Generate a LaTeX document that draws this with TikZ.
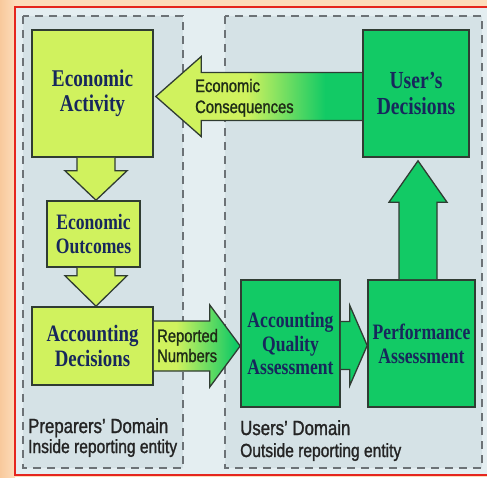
\documentclass[tikz,border=0pt]{standalone}
\usepackage{fontspec}
\setmainfont{Liberation Serif}
\newfontfamily\boxfont[FakeStretch=0.8]{Liberation Serif}
\newfontfamily\lblfont[FakeStretch=0.82,FakeBold=1.3]{Liberation Sans}
\usetikzlibrary{calc}

\definecolor{ygreen}{HTML}{D0F25E}
\definecolor{bgreen}{HTML}{12CA65}
\definecolor{edge}{HTML}{303C33}
\definecolor{navy}{HTML}{17275C}
\definecolor{peach}{HTML}{FDDCBA}
\definecolor{peachdark}{HTML}{F8C99C}
\definecolor{frame}{HTML}{E5261E}
\definecolor{panel}{HTML}{D5E2E6}
\definecolor{gapbg}{HTML}{E4EEF1}
\definecolor{dashc}{HTML}{6C7276}
\definecolor{lbl}{HTML}{242424}
\definecolor{arrowtxt}{HTML}{1F2C17}

% colour ramps for the two shaded block arrows
\pgfdeclarehorizontalshading{conseqshade}{100bp}{color(0bp)=(ygreen); color(47bp)=(ygreen); color(66bp)=(bgreen); color(100bp)=(bgreen)}
\pgfdeclarehorizontalshading{reportshade}{100bp}{color(0bp)=(ygreen); color(38bp)=(ygreen); color(72bp)=(bgreen); color(100bp)=(bgreen)}

\tikzset{
  ybox/.style={draw=edge, line width=1.6pt, fill=ygreen, inner sep=0pt, align=center,
    text=navy, font=\boxfont\bfseries\fontsize{23}{25}\selectfont},
  gbox/.style={ybox, fill=bgreen},
  blockarrow/.style={draw=edge, line width=1.3pt, line join=miter},
  domainbox/.style={draw=dashc, line width=1.5pt, dash pattern=on 8pt off 6pt, fill=panel},
  domlbl/.style={anchor=base west, inner sep=0pt, text=lbl},
  arrlbl/.style={anchor=base west, inner sep=0pt, text=arrowtxt,
    font=\lblfont\fontsize{18}{21}\selectfont}
}

\begin{document}
\begin{tikzpicture}[x=1pt, y=-1pt]
\useasboundingbox (0,0) rectangle (487,477);
\clip (0,0) rectangle (487,477);

% outer frame
\fill[peach] (0,0) rectangle (487,477);
\shade[left color=peachdark, right color=peach] (0,0) rectangle (15,477);
\fill[gapbg] (15,7) rectangle (495,475);
\draw[frame, line width=1.5pt] (495,7) -- (15,7) -- (15,475) -- (495,475);

% the two domains
\draw[domainbox] (23,16) rectangle (183,468);
\draw[domainbox] (225,16) rectangle (482,468);

% boxes
\node[ybox, minimum width=121pt, minimum height=127pt,
  font=\boxfont\bfseries\fontsize{24}{25}\selectfont] (ea) at (92.5,93.5) {Economic\\Activity};
\node[ybox, minimum width=93pt, minimum height=66pt,
  font=\boxfont\bfseries\fontsize{22}{24}\selectfont] (eo) at (93.5,234) {Economic\\Outcomes};
\node[ybox, minimum width=121pt, minimum height=78pt,
  font=\boxfont\bfseries\fontsize{23.5}{25}\selectfont] (ad) at (92.5,346) {Accounting\\Decisions};
\node[gbox, minimum width=99pt, minimum height=127pt,
  font=\boxfont\bfseries\fontsize{22}{23.5}\selectfont] (aqa) at (290.5,343.5) {Accounting\\Quality\\Assessment};
\node[gbox, minimum width=107pt, minimum height=127pt,
  font=\boxfont\bfseries\fontsize{22}{24}\selectfont] (pa) at (421.5,343.5) {Performance\\Assessment};
\node[gbox, minimum width=106pt, minimum height=127pt,
  font=\boxfont\bfseries\fontsize{24.5}{26}\selectfont] (ud) at (416,93.5) {User’s\\Decisions};

% Economic Activity -> Economic Outcomes
\draw[blockarrow, fill=ygreen]
  ($(ea.south)+(-15.5,0)$) -- ($(ea.south)+(-15.5,13)$) -- ($(ea.south)+(-27.5,13)$)
  -- ($(eo.north)+(2.5,0)$)
  -- ($(ea.south)+(34.5,13)$) -- ($(ea.south)+(22.5,13)$) -- ($(ea.south)+(22.5,0)$);

% Economic Outcomes -> Accounting Decisions
\draw[blockarrow, fill=ygreen]
  ($(eo.south)+(-16.5,0)$) -- ($(eo.south)+(-16.5,8)$) -- ($(eo.south)+(-28.5,8)$)
  -- ($(ad.north)+(3.5,0)$)
  -- ($(eo.south)+(33.5,8)$) -- ($(eo.south)+(21.5,8)$) -- ($(eo.south)+(21.5,0)$);

% Accounting Decisions -> Accounting Quality Assessment
\draw[blockarrow, shade, shading=reportshade]
  ($(ad.east)+(0,-25)$) -- ($(ad.east)+(56,-25)$) -- ($(ad.east)+(56,-41)$)
  -- (aqa.west |- ad.east)
  -- ($(ad.east)+(56,41)$) -- ($(ad.east)+(56,25)$) -- ($(ad.east)+(0,25)$);

% Accounting Quality Assessment -> Performance Assessment
\draw[blockarrow, fill=bgreen]
  ($(aqa.east)+(0,-22)$) -- ($(aqa.east)+(9,-22)$) -- ($(aqa.east)+(9,-38)$)
  -- ($(pa.west)+(0,2)$)
  -- ($(aqa.east)+(9,42)$) -- ($(aqa.east)+(9,26)$) -- ($(aqa.east)+(0,26)$);

% Performance Assessment -> User's Decisions
\draw[blockarrow, fill=bgreen]
  ($(pa.north)+(-22.5,0)$) -- ($(pa.north)+(-22.5,-77)$) -- ($(pa.north)+(-32.5,-77)$)
  -- ($(ud.south)+(2,3)$)
  -- ($(pa.north)+(25.5,-77)$) -- ($(pa.north)+(15.5,-77)$) -- ($(pa.north)+(15.5,0)$);

% User's Decisions -> Economic Activity
\draw[blockarrow, shade, shading=conseqshade]
  ($(ud.west)+(0,-21)$) -- ($(ud.west)+(-161,-21)$) -- ($(ud.west)+(-161,-37)$)
  -- ($(ea.east)+(2,3)$)
  -- ($(ud.west)+(-161,43)$) -- ($(ud.west)+(-161,27)$) -- ($(ud.west)+(0,27)$);

% arrow captions
\node[arrlbl] (ec1) at (195,92) {Economic};
\node[arrlbl] (ec2) at (195,113) {Consequences};
\node[arrlbl] (rn1) at (157,342) {Reported};
\node[arrlbl] (rn2) at (157,362) {Numbers};

% domain captions
\node[domlbl, font=\lblfont\fontsize{20.5}{24}\selectfont] (pd1) at (28,433) {Preparers’ Domain};
\node[domlbl, font=\lblfont\fontsize{19}{22}\selectfont] (pd2) at (28,453) {Inside reporting entity};
\node[domlbl, font=\lblfont\fontsize{20.5}{24}\selectfont] (ud1) at (240,435) {Users’ Domain};
\node[domlbl, font=\lblfont\fontsize{19}{22}\selectfont] (ud2) at (240,457) {Outside reporting entity};
\end{tikzpicture}
\end{document}
